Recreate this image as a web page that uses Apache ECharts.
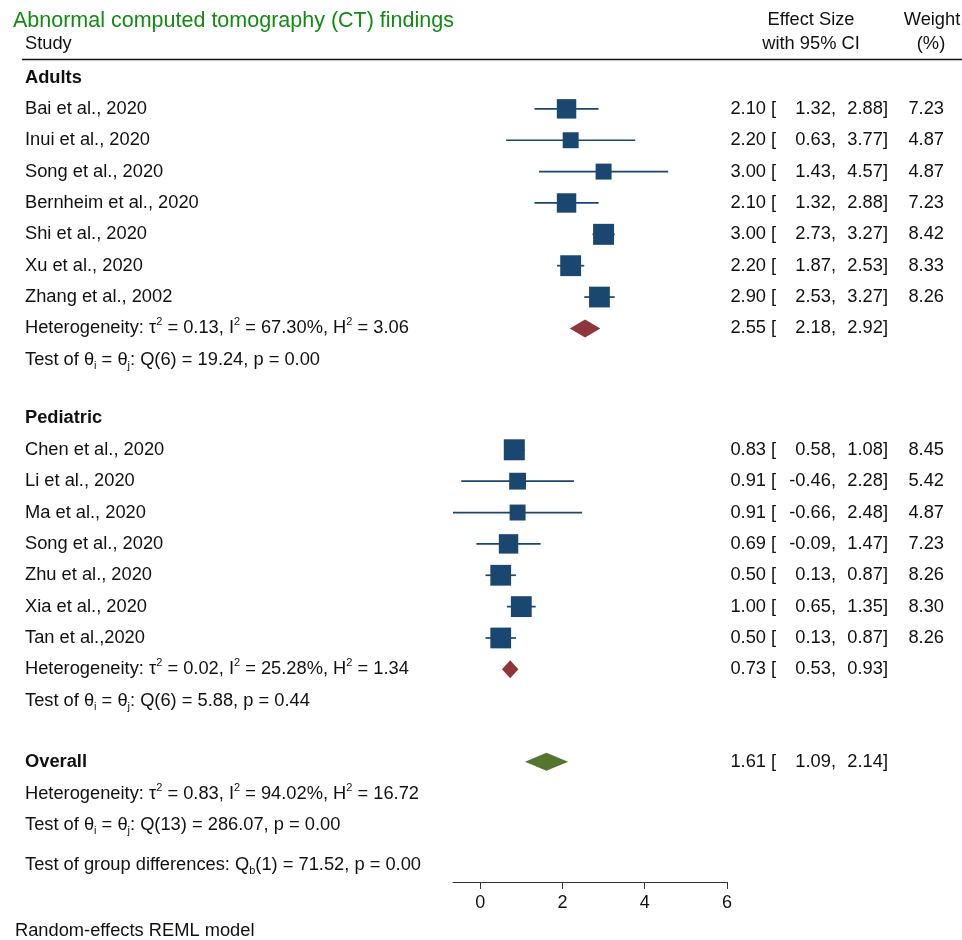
<!DOCTYPE html>
<html>
<head>
<meta charset="utf-8">
<script src="https://cdn.jsdelivr.net/npm/echarts@6/dist/echarts.min.js"></script>
<style>
  html, body { margin: 0; padding: 0; background: #ffffff; }
  #chart { width: 962px; height: 940px; }
</style>
</head>
<body>
<div id="chart"></div>
<script>
// ---- data ----
const titleText = 'Abnormal computed tomography (CT) findings';

const adultStudies = ['Bai et al., 2020', 'Inui et al., 2020', 'Song et al., 2020', 'Bernheim et al., 2020',
  'Shi et al., 2020', 'Xu et al., 2020', 'Zhang et al., 2002'];
const adultEffect = [2.10, 2.20, 3.00, 2.10, 3.00, 2.20, 2.90];
const adultLower  = [1.32, 0.63, 1.43, 1.32, 2.73, 1.87, 2.53];
const adultUpper  = [2.88, 3.77, 4.57, 2.88, 3.27, 2.53, 3.27];
const adultWeight = [7.23, 4.87, 4.87, 7.23, 8.42, 8.33, 8.26];

const pedStudies = ['Chen et al., 2020', 'Li et al., 2020', 'Ma et al., 2020', 'Song et al., 2020',
  'Zhu et al., 2020', 'Xia et al., 2020', 'Tan et al.,2020'];
const pedEffect = [0.83, 0.91, 0.91, 0.69, 0.50, 1.00, 0.50];
const pedLower  = [0.58, -0.46, -0.66, -0.09, 0.13, 0.65, 0.13];
const pedUpper  = [1.08, 2.28, 2.48, 1.47, 0.87, 1.35, 0.87];
const pedWeight = [8.45, 5.42, 4.87, 7.23, 8.26, 8.30, 8.26];

// pooled estimate, lower, upper
const adultPooled   = [2.55, 2.18, 2.92];
const pedPooled     = [0.73, 0.53, 0.93];
const overallPooled = [1.61, 1.09, 2.14];

// heterogeneity: tau^2, I^2, H^2
const adultHet   = ['0.13', '67.30%', '3.06'];
const pedHet     = ['0.02', '25.28%', '1.34'];
const overallHet = ['0.83', '94.02%', '16.72'];
// homogeneity test: df, Q, p
const adultQ   = ['6', '19.24', '0.00'];
const pedQ     = ['6', '5.88', '0.44'];
const overallQ = ['13', '286.07', '0.00'];
const groupQ   = ['1', '71.52', '0.00'];

const xTicks = [0, 2, 4, 6];

// ---- row layout (row units, top to bottom) ----
const groupGap = 1.87;
const overallGap = 1.95;
const rowItems = [];    // text rows
const ciData = [];      // [lower, upper, row]
const boxData = [];     // [effect, row, weight]
const diamondData = []; // [effect, lower, upper, row, colorIndex]

let r = 0;
function addGroup(name, studies, eff, lo, hi, w, pooled, het, q, colorIndex) {
  rowItems.push({ row: r, kind: 'header', text: name });
  r += 1;
  for (let i = 0; i < studies.length; i++) {
    rowItems.push({ row: r, kind: 'study', text: studies[i], es: eff[i], lo: lo[i], hi: hi[i], w: w[i] });
    ciData.push([lo[i], hi[i], r]);
    boxData.push([eff[i], r, w[i]]);
    r += 1;
  }
  rowItems.push({ row: r, kind: 'het', het: het, es: pooled[0], lo: pooled[1], hi: pooled[2] });
  diamondData.push([pooled[0], pooled[1], pooled[2], r, colorIndex]);
  r += 1;
  rowItems.push({ row: r, kind: 'test', q: q });
}
addGroup('Adults', adultStudies, adultEffect, adultLower, adultUpper, adultWeight, adultPooled, adultHet, adultQ, 0);
r += groupGap;
addGroup('Pediatric', pedStudies, pedEffect, pedLower, pedUpper, pedWeight, pedPooled, pedHet, pedQ, 0);
r += overallGap;
rowItems.push({ row: r, kind: 'overall', text: 'Overall', es: overallPooled[0], lo: overallPooled[1], hi: overallPooled[2] });
diamondData.push([overallPooled[0], overallPooled[1], overallPooled[2], r, 1]);
r += 1.03;
rowItems.push({ row: r, kind: 'het', het: overallHet });
r += 0.99;
rowItems.push({ row: r, kind: 'test', q: overallQ });
r += 1.26;
rowItems.push({ row: r, kind: 'group', q: groupQ });
const axisRow = r + 0.55;

// ---- styling ----
const FONT = "'Liberation Sans', Arial, Helvetica, sans-serif";
const FS = 18.3;
const INK = '#111';
const NAVY = '#1a476f';
const DIAMOND_COLORS = ['#90353b', '#55752f'];

const chart = echarts.init(document.getElementById('chart'), null, { renderer: 'canvas' });

chart.setOption({
  animation: false,
  backgroundColor: '#ffffff',
  grid: { left: 453, right: 235, top: 77.5, bottom: 58, containLabel: false },
  xAxis: {
    type: 'value', min: -0.66, max: 6,
    splitLine: { show: false },
    axisLine: { show: true, onZero: false, lineStyle: { color: '#333', width: 1 } },
    axisTick: { show: true, length: 7, customValues: xTicks, lineStyle: { color: '#333' } },
    axisLabel: { customValues: xTicks, margin: 12, color: INK, fontSize: 18, fontFamily: FONT }
  },
  yAxis: {
    type: 'value', inverse: true, min: 0, max: axisRow, show: false
  },
  series: [
    {
      type: 'custom', name: 'ci', data: ciData, silent: true,
      renderItem: function (params, api) {
        const a = api.coord([api.value(0), api.value(2)]);
        const b = api.coord([api.value(1), api.value(2)]);
        return { type: 'line', shape: { x1: a[0], y1: a[1], x2: b[0], y2: b[1] },
          style: { stroke: NAVY, lineWidth: 1.7 } };
      }
    },
    {
      type: 'scatter', name: 'studies', data: boxData, silent: true,
      symbol: 'rect',
      symbolSize: function (val) { return 7.23 * Math.sqrt(val[2]); },
      itemStyle: { color: NAVY, opacity: 1 }
    },
    {
      type: 'custom', name: 'pooled', data: diamondData, silent: true,
      renderItem: function (params, api) {
        const y = api.value(3);
        const c = api.coord([api.value(0), y]);
        const l = api.coord([api.value(1), y]);
        const h = api.coord([api.value(2), y]);
        const half = 9;
        return { type: 'polygon',
          shape: { points: [[l[0], c[1]], [c[0], c[1] - half], [h[0], c[1]], [c[0], c[1] + half]] },
          style: { fill: DIAMOND_COLORS[api.value(4)] } };
      }
    }
  ]
});

// ---- text columns ----
const rich = {
  sup: { fontSize: 11, fontFamily: FONT, fill: INK, verticalAlign: 'top', lineHeight: 23 },
  sub: { fontSize: 11, fontFamily: FONT, fill: INK, verticalAlign: 'bottom', lineHeight: 23 },
  n: { fontSize: FS, fontFamily: FONT, fill: INK, lineHeight: 23 }
};
function txt(text, x, y, opts) {
  return {
    type: 'text', silent: true,
    style: Object.assign({
      text: text, x: x, y: y,
      fontSize: FS, fontFamily: FONT, fill: INK,
      textAlign: 'left', textVerticalAlign: 'middle'
    }, opts || {})
  };
}
function richTxt(str, x, y) {
  return {
    type: 'text', silent: true,
    style: { text: str, x: x, y: y, fontSize: FS, fontFamily: FONT, fill: INK,
      textAlign: 'left', textVerticalAlign: 'middle', rich: rich }
  };
}
const f2 = v => v.toFixed(2);
function ciCols(it, y, weight) {
  const out = [
    txt(f2(it.es), 766, y, { textAlign: 'right' }),
    txt('[', 771, y),
    txt(f2(it.lo) + ',', 836, y, { textAlign: 'right' }),
    txt(f2(it.hi) + ']', 888, y, { textAlign: 'right' })
  ];
  if (weight != null) out.push(txt(f2(weight), 944, y, { textAlign: 'right' }));
  return out;
}

const graphics = [
  txt(titleText, 13, 21, { fontSize: 21.5, fill: '#138a13' }),
  txt('Study', 25, 44),
  txt('Effect Size', 811, 20, { textAlign: 'center' }),
  txt('with 95% CI', 811, 44, { textAlign: 'center' }),
  txt('Weight', 932, 20, { textAlign: 'center' }),
  txt('(%)', 931, 44, { textAlign: 'center' }),
  { type: 'line', silent: true, shape: { x1: 22, y1: 59.5, x2: 962, y2: 59.5 },
    style: { stroke: INK, lineWidth: 1.5 } },
  txt('Random-effects REML model', 15, 931)
];

rowItems.forEach(function (it) {
  const y = chart.convertToPixel({ gridIndex: 0 }, [0, it.row])[1];
  if (it.kind === 'header' || it.kind === 'overall') {
    graphics.push(txt(it.text, 25, y, { fontWeight: 'bold' }));
    if (it.kind === 'overall') graphics.push.apply(graphics, ciCols(it, y, null));
  } else if (it.kind === 'study') {
    graphics.push(txt(it.text, 25, y));
    graphics.push.apply(graphics, ciCols(it, y, it.w));
  } else if (it.kind === 'het') {
    const h = it.het;
    graphics.push(richTxt('{n|Heterogeneity: τ}{sup|2}{n| = ' + h[0] + ', I}{sup|2}{n| = ' + h[1] +
      ', H}{sup|2}{n| = ' + h[2] + '}', 25, y));
    if (it.es != null) graphics.push.apply(graphics, ciCols(it, y, null));
  } else if (it.kind === 'test') {
    const q = it.q;
    graphics.push(richTxt('{n|Test of θ}{sub|i}{n| = θ}{sub|j}{n|: Q(' + q[0] + ') = ' + q[1] +
      ', p = ' + q[2] + '}', 25, y));
  } else if (it.kind === 'group') {
    const q = it.q;
    graphics.push(richTxt('{n|Test of group differences: Q}{sub|b}{n|(' + q[0] + ') = ' + q[1] +
      ', p = ' + q[2] + '}', 25, y));
  }
});

chart.setOption({ graphic: { elements: graphics } });
</script>
</body>
</html>
